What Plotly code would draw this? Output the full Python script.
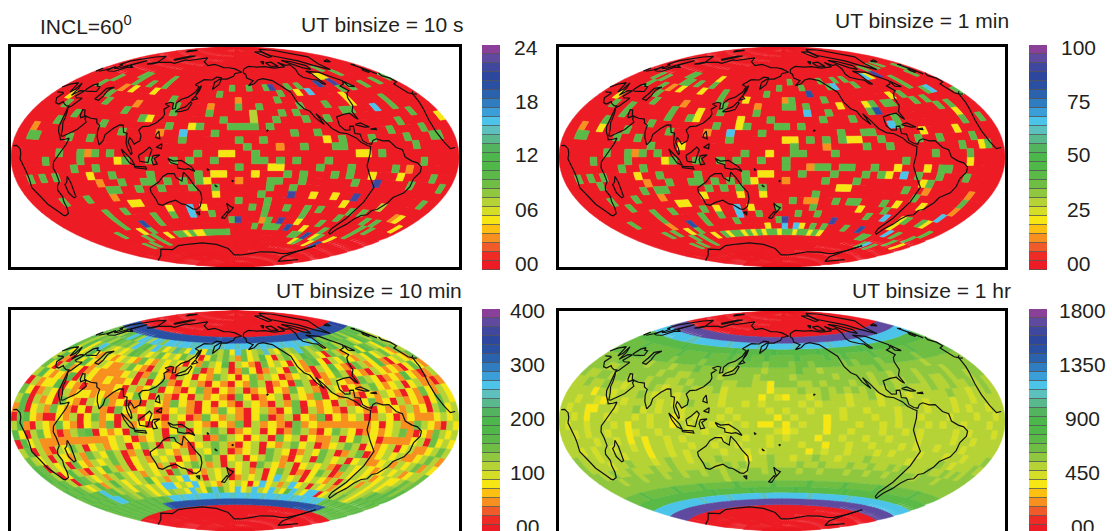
import math
import plotly.graph_objects as go

# ---------- data ----------
LEVEL_CODES = "0123456789abcdefghijklmno"
COLORS = ["#ed1c24","#ee2b24","#f15a29","#f7901e","#fdc010","#f5e614","#d5de26","#b5d334","#8fc73e",
          "#6fbe44","#5bba47","#4fb848","#4cb74a","#52b45f","#58b98c","#5cc0bd","#4cc4ea","#3a9fd9",
          "#2f7cc0","#2b62ae","#2a50a3","#2d479f","#3f479f","#5f4a9f","#8a3f98"]
MAXIMA = [24, 100, 400, 1800]
TITLES = ["UT binsize = 10 s", "UT binsize = 1 min", "UT binsize = 10 min", "UT binsize = 1 hr"]
BAR_LABELS = [["24","18","12","06","00"], ["100","75","50","25","00"],
              ["400","300","200","100","00"], ["1800","1350","900","450","00"]]

# Sparse panels: one string per latitude row (65 down to -65, 5 degrees each); each token is column + level code.
panel_10s = [
 "50a",
 "10a 11a 17a 475 485 52a",
 "6a 11a 14a 17a 29a 32a 35a 36m 39a 41a 45k 48m",
 "5a 103 125 165 27a 37a 405 42g 48a 50a 53a 56a 59a",
 "9a 20a 36a 303 475",
 "35 10a 153 21a 263 30a 33a 39a 43a 475 53a",
 "4a 14a 21a 26a 327 36a 38a 45a 46a 50g 53a",
 "7a 17a 185 28a 327 35a 39a 42a 55a",
 "5a 12a 21a 245 25a 29a 30a 31a 32a 34a 52a 595",
 "23 15a 203 23g 27a 37a 40a 50a 55a",
 "2a 3a 8a 11a 23a 30a 33a 415 43a 47a 52a 56a 57a",
 "31a 353 38a 42a 43a 53a",
 "7a 10a 113 12a 14a 25a 285 295 32a 455 465 48a",
 "5a 10a 155 16a 19a 22a 24a 27a 32a 33a 35a 37a 41a 54a",
 "9a 12a 30a 345 355 40a 44a 50a 523",
 "2a 4a 6a 115 14a 19a 25a 275 285 325 36a 38a 42a 44a 475 515 56a",
 "123 15a 18a 19a 21a 23a 25a 265 303 34a 35a 38a 45a 48m 53a 58a",
 "13a 14a 20a 24a 27a 17a 34a 37a",
 "5a 9a 133 275 33a 37m 405 435 46m 57a",
 "155 165 30a 34a 455 517",
 "10a 13a 205 23g 255 32a 34a 37a 40a 42a 47a 49a 553 565",
 "10a 17a 20a 23g 26a 34a 40a 46a 51a 53a 585",
 "10a 14k 17a 29a 30m 35a 343 37m 405 44a 52a 54a",
 "7a 125 14a 33a 35a 36a 37a 39k 425 46a 52a",
 "11a 13a 165 18a 19a 205 21a 225 235 24a 25a 26a 27a 28a 41a 42a 44k 465 47a 505",
 "8a 10a 13a 435 44a 475 49k",
]
panel_1min = [
 "50a 53a 55a",
 "10a 11a 175 473 485 31a 37a 40a 42a 47g 50m 58a",
 "6a 11a 14a 17a 29a 33a 38a 39g 43a 52a 57a 4a 12a",
 "5a 103 125 165 27a 34k 52a 8a 20a",
 "9a 20a 36a 303 31a 475 49a 54a 55g 245",
 "35 10a 153 21a 263 30a 31a 33a 385 425 43a 45a 46a 50a 52a 59a",
 "4a 14a 21a 26a 33g 36a 42a 43k 53a 55a 185 7a",
 "7a 17a 185 28a 35a 39a 45a 555 14a 245",
 "5a 12a 21a 245 25a 29a 30a 32a 45a 44g 55a 58a",
 "23 15a 203 23g 27a 37a 40a 41a 485 535 55 9a",
 "2a 3a 8a 11a 23a 305 315 33a 35a 37a 385 395 42a 47a 50a 55a",
 "31a 353 40a 43a 53a 565 57a 13a 175",
 "7a 10a 113 12a 14a 25a 285 31a 32a 36a 49a 54a",
 "5a 10a 155 16a 19a 22a 24a 27a 30a 545 45a",
 "9a 12a 30a 333 34a 35a 37a 38a 41a 445 485 50a 51a",
 "2a 4a 6a 115 14a 19a 25a 275 285 32a 36a 40a 42a 435 45g 47a 50a 54a",
 "123 15a 18a 19a 21a 23a 25a 265 303 35a 39a 49a 485 5a",
 "13a 14a 20a 24a 27a 375 385 46a 493 563 22a 11a",
 "5a 9a 133 275 34a 48a 56a 245 195",
 "155 165 31a 333 343 37a 39a 40a 44a 465 505 563 7a",
 "10a 13a 205 23g 255 34a 415 45a 55g 29a 18a",
 "10a 17a 20a 23g 26a 32a 35a 43a 46g 495 50a 53a 545 4a",
 "14k 17a 29a 30m 38m 495 57a 103 22a",
 "7a 125 14a 30g 32g 335 35a 37a 41a 44k 50g 52a 56a 9a 275",
 "11a 13a 165 18a 195 20a 21a 225 23a 245 25a 265 27a 28a 295 30a 31a 325 33a 34a 355 36a 375 46a 47a 54a 575",
 "8a 10a 13a 50g 49a 52a",
]
# Dense panels: 60 level codes per latitude row, left to right across the map.
panel_10min = [
 "kkkllkkkkk kkkkkkkkkk kkkkkkjkkk kkkkkkkkkk kkkkkkkkkk kkjkkkkkll",
 "9a897a9ga7 gf7gf8ggfg gffggfgfgg fgggfgfggf ggfgg9ga8a 9a8a7a9a9a",
 "a79897a989 7g9a7g857e 85g75e8795 g9578f7597 8g978a59a7 89a75a9797",
 "97a58g9757 57a9757957 5975059797 3957a50795 7a97509735 7a5a975a87",
 "a5957a5375 3575395375 75053975a0 7530957505 39a5075953 75a5795397",
 "7a3095a537 5337953075 0375903570 3950375095 3075a53097 35a3057539",
 "9507a35035 3333570395 3075053975 0593750357 5035970530 7535305953",
 "7a5353a075 3353350705 9305730530 5397035097 0537530975 0353a53037",
 "07355a0530 3333507359 0530593053 7035053957 3075053795 3570573303",
 "9503750735 5353305950 7305073530 9503570753 9053730537 5305395375",
 "7a07350953 0759350307 5395305053 0753073905 3507305935 0735305975",
 "3a05739530 5073095357 0357305395 3057305907 3530753053 5373507957",
 "09a5300537 0593503705 3075039537 3059037053 9053570375 0353335757",
 "7a30753953 0573907350 5370753053 9073530935 3333333505 7339753075",
 "a507953037 9a05350975 7059057970 3570503973 0597503535 7930539757",
 "0a57333333 3333575035 7093570397 5057095705 3370597503 3335709575",
 "7907307597 0573570597 0753057973 0570537957 0357970535 7057335797",
 "9757075373 9759703705 7537075970 3570975037 5970379035 7573357973",
 "a907570953 7579705737 5705379705 7057973057 0975705733 5737579375",
 "a9705a7307 5a73705753 7057973707 5709753705 7573097575 3575735779",
 "9a970a9757 3797573757 0970537570 5737059703 0597037575 7357557989",
 "a9a9757a37 a75757a573 75g5707570 375705g757 0575370757 3757578a8a",
 "9a9a9ag9a7 87587575gg 575g575375 7505g5737g 5707573757 87578a9a9a",
 "a9a9a9gga9 8798757587 75g75aga75 g57g75g75a g75gg05787 9757a9a9a9",
 "9a9a9a9a9a 9a9a9a9ggf ggfgggfggf ggfggfggfg gfgfggfg9a 9a9a9a9a9a",
 "9a9a9a9a9a 9a9ajkkkkk kkkkkkkkkk kkkkkkkkkk kkkkkkkkkj ka9a9a9a9a",
]
panel_1hr = [
 "nnnnnnnnnn nnnnnnnnnn nnnnnnnnnn nnnnnnnnnn nnnnnnnnnn nnnnnnnnnn",
 "gggggggggg ffgggggggf gggggfgggg ggfggggggf ggggfggggg gggggggggg",
 "aaaaaaaaaa abaaaaaaaa abaaaaaaba aaaaaabaaa aaaabaaaaa aaaaaaaaaa",
 "9999a99999 99a9999a99 9a99a99a99 99a9999a99 a9999a9999 999a999999",
 "9999999899 9989999899 9989999899 9899899998 9899989999 9989999999",
 "8888988887 8887888988 8878888788 8898878888 8888988888 8878888888",
 "8887788888 8878877888 8788887888 8788888788 8878878887 8888788888",
 "8778878878 8788778788 8877887758 8877878887 8878877887 8778788788",
 "7787787767 7787677877 7867777757 7787787878 7877878777 8778778787",
 "7777577677 7876776777 7767777576 5776787767 7867776777 7787767787",
 "7767765776 7777676787 7767767677 7767677767 7767787767 7767767777",
 "7677557767 7867677677 7776777767 6776777677 6777677767 7767677677",
 "7767577677 7676775676 7767677775 7677757677 7677677677 7677767767",
 "7677677767 5776775767 7676767557 5767757776 7767677767 6776777677",
 "7767677677 5677677767 6776777776 5677757767 7767767677 7767677767",
 "7777767767 5757767677 7767767767 6777577677 6776777677 7767767777",
 "7767677677 6757767767 7677677767 7767757767 7677767677 6777677777",
 "8777677767 7757767677 7767767677 7775767767 7767677767 7767767778",
 "8777767787 7767877677 7877757787 7677877677 7877777677 7787677787",
 "8877877877 7877877778 7787877787 7787787778 7787787877 7877878788",
 "8888788878 8878878878 8788788788 8878878887 8878878888 7888788888",
 "8888888888 8888888888 8788888888 8888888888 8888888888 8888888888",
 "9999a99999 9a9999a999 99a99999a9 9999a99999 a99999a999 9999a99999",
 "aaaaaaaaaa aaaaaaabaa aaaabaaaaa aabaaaaaaa abaaaaaaaa aaaaaaaaaa",
 "gggggggggg gggfgggggf ggggggfggg gggggfgggg gggfgggggg gggggggggg",
 "nnnnnnnnnn nnnnnnnnnn nnnnnnnnnn nnnnnnnnnn nnnnnnnnnn nnnnnnnnnn",
]

# coastlines as lon, lat pairs
COAST = [
 [(-6,35.8),(-10,31),(-13,27.5),(-17,21),(-17,14.7),(-15,11),(-13,8.5),(-8,4.5),(-3,5),(1,6),(4.5,6.2),(8.5,4.5),(9.7,2),(9,-1),(12,-5),(13.5,-9),(13.7,-12),(12,-17),(14.5,-22),(15.2,-27),(18,-32),(18.5,-34.2),(20,-34.8),(25.5,-34),(30,-31),(32.8,-27),(35.5,-24),(35,-20),(37,-17.5),(40.5,-15),(40.5,-10.5),(39,-6.5),(40,-3),(43,0),(47,4),(50,8),(51.2,11.8),(48,11),(44,10.5),(43,12),(39.5,15.5),(37.5,18.5),(37,21),(35.5,24),(33.5,28),(32.5,30),(32,31),(29,31),(25,31.8),(22,32.8),(20,31),(15.5,31.5),(10.5,34),(11,37),(9.5,37.3),(3,36.8),(-2,35.2),(-6,35.8)],
 [(49.3,-12),(50.3,-16),(47.5,-25),(45,-25.5),(43.5,-22),(44.3,-17),(47,-15.5),(49.3,-12)],
 [(32.5,30),(35,28),(38,24),(39,21),(42,17),(43.3,13),(45,12.8),(52,16),(55,17.5),(59.5,22.5),(56.5,24.5),(56,26.5),(52,25),(50,26.5),(48,30),(50.5,30),(54,26.7),(57,26),(61.5,25.2),(67,25),(69,22.5),(72.5,21),(73,17),(74.5,13),(77.5,8),(80,11),(80.3,15),(85,19.5),(89,22),(92,22),(94.5,17),(97.5,16.5),(98.5,10),(100.3,6),(103.5,1.5),(104,2.5),(103,6),(100,10.5),(100.5,13.5),(102.5,12),(105,9),(109,11.5),(109,15),(106,19),(108,21.5),(113,22),(118,24.5),(121.5,28.5),(122,31),(119.5,34.5),(122.5,37),(118,38.5),(122,40),(125,39.5),(126.5,35),(129,35.5),(127.5,39.5),(130,42.5),(135.5,44.5),(140,48.5),(141,53),(135.5,54.5),(142,59),(152,59),(156,61.5),(163,61),(156,57),(156.5,51.2),(162,55.5),(163,60),(170,60),(178,62.5),(180,65),(-170,66),(-178,68.5),(180,69),(170,70),(160,70),(150,71.5),(140,72.5),(130,71),(113,74),(105,77.5),(90,75),(80,73),(72,73),(68,69),(60,69),(50,68),(43,67),(40,65),(35,64),(41,67),(33,69.5),(25,71),(15,68.5),(5,62),(6,58.5),(11,59),(13,56),(17,57),(18.5,60),(22,65.5),(25,65),(21,61),(23,60),(30,60),(23,59),(21,55),(14,54),(10,54),(9,57),(8,54),(4,52),(-1,50),(-4.5,48.5),(-1,46),(-2,43.5),(-9,43),(-9,37),(-6,36),(-2,37),(0,39.5),(3,42),(6,43),(9,44),(12,42),(16,38.5),(17,40.5),(13,44.5),(15,43.5),(19,41.5),(22,37),(24,40.5),(27,41),(29,41),(27,37),(30,36.3),(36,36.7),(35,33),(34.3,31.3),(32.5,30)],
 [(28,41.5),(28,45),(31,46.5),(34,45),(38,45),(41.5,42),(36,41.5),(31,41),(28,41.5)],
 [(47,45),(53,46.5),(51,44),(54,40),(54,37),(49,37.5),(49,41),(47,45)],
 [(-5,50),(1,51.5),(0,54),(-2,57.5),(-5,58.5),(-5,54.5),(-5,52),(-5,50)],
 [(-10,52),(-6,52.5),(-6,55),(-10,54),(-10,52)],
 [(-24,65),(-14,65),(-18,63.5),(-24,65)],
 [(52,71),(57,71),(68,77),(60,76),(53,72),(52,71)],
 [(12,78),(22,80),(20,77),(12,78)],
 [(130,33),(135,33.5),(140,35),(141.5,40),(140,41),(137,37),(132,35),(130,33)],
 [(140,42),(145,43.5),(142,45.5),(140,42)],
 [(142,46),(143.5,50),(143,54),(142,52),(142,46)],
 [(120.5,16),(122,18.5),(124,13),(120.5,14),(120.5,16)],
 [(122,7),(126,9.5),(126,6),(122,7)],
 [(109,1),(113,3.5),(117,7),(119,5),(117.5,1),(116,-4),(110,-3),(109,1)],
 [(95.5,5.5),(100,2),(104,-2),(106,-6),(102,-4),(98,1),(95.5,5.5)],
 [(105.5,-6.5),(114,-7),(114.5,-8.5),(106,-7.5),(105.5,-6.5)],
 [(120,1),(125,1.5),(121,-1),(123,-5),(120,-5.5),(119,-2),(120,1)],
 [(131,-1),(135,-3),(141,-2.5),(145,-5),(148,-7),(150.5,-10.5),(146,-8.5),(143,-9),(138,-8),(138,-5.5),(133,-4),(131,-1)],
 [(114,-22),(122,-18),(126,-14),(130,-12),(135,-12),(136,-15),(140,-17.5),(142,-11),(145.5,-15),(149,-21),(153,-26),(153,-31),(150,-37),(146,-39),(143,-38.5),(138,-35),(135,-34.5),(131,-31.5),(124,-33),(118,-35),(115,-34),(115,-30),(113.5,-25),(114,-22)],
 [(145,-41),(148,-41),(147,-43.5),(145,-41)],
 [(173,-34.5),(176,-37),(178.5,-38),(175,-41.5),(174,-39),(173,-34.5)],
 [(173,-41),(174,-42),(170,-46.5),(167,-46),(173,-41)],
 [(177.5,-17.5),(178.5,-17.5),(178.5,-18.3),(177.5,-17.5)],
 [(164.5,-20.5),(166.5,-22),(165.5,-22),(164.5,-20.5)],
 [(159.5,-8.5),(161,-9.5),(160,-9.8),(159.5,-8.5)],
 [(-155.8,20),(-155,19.5),(-155.7,19),(-155.8,20)],
 [(-168,65.5),(-166,68.5),(-156,71),(-141,70),(-128,70),(-115,68),(-108,68),(-96,68),(-94,72),(-90,69),(-82,69),(-87,65),(-94,61),(-94,58.5),(-87,56),(-82,55),(-82,52),(-79,51.5),(-79,55),(-77,60),(-78,62.5),(-70,61),(-65,60),(-61,56),(-56,52),(-60,50),(-67,49),(-65,45),(-70,43.5),(-74,40.5),(-76,35),(-81,31),(-80,25.5),(-82,27),(-84,30),(-90,29.5),(-97,28),(-98,22),(-95,18.5),(-91,18.5),(-90,21),(-87,21),(-88,16),(-84,15.5),(-83.5,11),(-80,9),(-77,8.5),(-75,11),(-72,12),(-67,10.5),(-62,10.5),(-57,6),(-52,4.5),(-50,0),(-44,-2.5),(-39,-3.5),(-35,-6),(-35,-9),(-39,-13),(-39,-18),(-41,-22),(-48,-25.5),(-49,-29),(-53,-34),(-57,-35),(-57,-38),(-62,-39),(-65,-42),(-66,-46),(-69,-50),(-68,-54),(-72,-53),(-75,-50),(-73,-42),(-73,-37),(-71,-30),(-70,-20),(-76,-14),(-81,-6),(-80,-2),(-79,2),(-78,7),(-80,7.5),(-85,10),(-88,13),(-94,16),(-100,17),(-105,20),(-109,26),(-113,31),(-110,23),(-115,28),(-117,33),(-121,35),(-124,40),(-124,48),(-130,54),(-135,58),(-145,60),(-152,59),(-158,56),(-165,54.5),(-158,58.5),(-165,61),(-165,64),(-168,65.5)],
 [(-73,78),(-60,82),(-32,83.5),(-20,80),(-22,70),(-40,65),(-44,60),(-52,65),(-55,70),(-68,76),(-73,78)],
 [(-80,73),(-70,71),(-62,66),(-67,63),(-73,65),(-78,70),(-80,73)],
 [(-117,70),(-105,69),(-105,73),(-117,73),(-117,70)],
 [(-90,77),(-78,77),(-62,82),(-85,83),(-90,77)],
 [(-125,72),(-118,74),(-123,74.5),(-125,72)],
 [(-85,22),(-80,23),(-74,20),(-78,20),(-85,22)],
 [(-74,18.5),(-69,19),(-69,18),(-74,18.5)],
 [(-59,48),(-53,47),(-56,51.5),(-59,48)],
 [(-58,-63),(-62,-68),(-70,-72),(-80,-73),(-100,-73),(-125,-74),(-150,-77),(-165,-78),(178,-78),(167,-72),(150,-68),(130,-66),(110,-66),(90,-66),(70,-68),(55,-66),(30,-69),(0,-70),(-20,-73),(-35,-78),(-60,-75),(-63,-68),(-58,-63)],
]

# ---------- layout geometry (pixels) ----------
W, H = 1112, 531
PANELS = [
 dict(rows=panel_10s,  sparse=True,  L=11,  R=459,  T=47,  B=267, cx=235, cy=157, a=224, b=110, tx=465,  ty=24,  bar=(482,500,45,270),  lab=526,  laby=47),
 dict(rows=panel_1min, sparse=True,  L=559, R=1005, T=47,  B=267, cx=782, cy=157, a=223, b=110, tx=1011, ty=21,  bar=(1029,1047,45,270),lab=1078, laby=47),
 dict(rows=panel_10min,sparse=False, L=11,  R=459,  T=310, B=531, cx=235, cy=421, a=224, b=110, tx=464,  ty=291, bar=(482,500,309,531), lab=527,  laby=310),
 dict(rows=panel_1hr,  sparse=False, L=559, R=1005, T=311, B=531, cx=782, cy=421, a=223, b=110, tx=1013, ty=291, bar=(1029,1047,309,531),lab=1082, laby=310),
]
LABEL_STEP = 54
LON_CENTER = 180
FONT = "Liberation Sans, Arial, sans-serif"


def hammer_rel(lam, lat):
    l, p = math.radians(lam) / 2, math.radians(lat)
    d = math.sqrt(1 + math.cos(p) * math.cos(l))
    return math.cos(p) * math.sin(l) / d, math.sin(p) / d  # normalised to +-1


def cell_polygon(col, lat_top):
    lam0 = -180 + 6 * col
    pts = [hammer_rel(lam0 + 2 * k, lat_top) for k in range(4)]
    pts += [hammer_rel(lam0 + 6, lat_top - 2.5)]
    pts += [hammer_rel(lam0 + 2 * k, lat_top - 5) for k in range(3, -1, -1)]
    pts += [hammer_rel(lam0, lat_top - 2.5), pts[0]]
    return pts


def level_rows(p):
    """Turn a panel's strings into a 26 x 60 table of level indices."""
    table = []
    for row in p["rows"]:
        if p["sparse"]:
            cells = [0] * 60
            for tok in row.split():
                cells[int(tok[:-1])] = LEVEL_CODES.index(tok[-1])
        else:
            text = row.replace(" ", "").ljust(60, "0")[:60]
            cells = [LEVEL_CODES.index(ch) for ch in text]
        table.append(cells)
    return table


fig = go.Figure()
layout = dict(width=W, height=H, autosize=False, margin=dict(l=0, r=0, t=0, b=0),
              paper_bgcolor="white", plot_bgcolor="white", showlegend=False,
              font=dict(family=FONT, color="#231f20"))
annotations, shapes = [], []

for i, p in enumerate(PANELS):
    xa, ya = ("x%d" % (i + 1) if i else "x"), ("y%d" % (i + 1) if i else "y")
    xk, yk = ("xaxis%d" % (i + 1) if i else "xaxis"), ("yaxis%d" % (i + 1) if i else "yaxis")
    layout[xk] = dict(domain=[p["L"] / W, p["R"] / W], range=[(p["L"] - p["cx"]) / p["a"], (p["R"] - p["cx"]) / p["a"]],
                      showgrid=False, zeroline=False, showticklabels=False, ticks="", showline=True, mirror=True,
                      linecolor="black", linewidth=3, anchor=ya)
    layout[yk] = dict(domain=[1 - p["B"] / H, 1 - p["T"] / H], range=[(p["cy"] - p["B"]) / p["b"], (p["cy"] - p["T"]) / p["b"]],
                      showgrid=False, zeroline=False, showticklabels=False, ticks="", showline=True, mirror=True,
                      linecolor="black", linewidth=3, anchor=xa)

    grouped = {lv: ([], []) for lv in range(25)}

    def add_cell(lv, col, lat_top):
        for x, y in cell_polygon(col, lat_top):
            grouped[lv][0].append(x); grouped[lv][1].append(y)
        grouped[lv][0].append(None); grouped[lv][1].append(None)

    # polar caps hold the lowest level in every panel
    for lat_top in (90, 85, 80, 75, 70):
        for col in range(60):
            add_cell(0, col, lat_top)
            add_cell(0, col, -lat_top + 5)
    for r, cells in enumerate(level_rows(p)):
        for col, lv in enumerate(cells):
            add_cell(lv, col, 65 - 5 * r)
    for lv, (xs, ys) in grouped.items():
        if xs:
            fig.add_trace(go.Scatter(x=xs, y=ys, xaxis=xa, yaxis=ya, mode="lines", fill="toself",
                                     fillcolor=COLORS[lv], line=dict(color=COLORS[lv], width=0.5), hoverinfo="skip"))

    # coastlines
    cx_, cy_ = [], []
    for line in COAST:
        prev = None
        for lon, lat in line:
            lam = (lon - LON_CENTER + 180) % 360 - 180
            if prev is not None and abs(lam - prev) > 180:
                cx_.append(None); cy_.append(None)
            x, y = hammer_rel(lam, lat)
            cx_.append(x); cy_.append(y)
            prev = lam
        cx_.append(None); cy_.append(None)
    fig.add_trace(go.Scatter(x=cx_, y=cy_, xaxis=xa, yaxis=ya, mode="lines",
                             line=dict(color="#111111", width=1.2), hoverinfo="skip"))

    # colour bar
    j = i + 5
    bx0, bx1, by0, by1 = p["bar"]
    bins = list(range(25))
    top_edge = 24.5
    bottom_val = top_edge - (by1 - by0) / 9.0
    layout["xaxis%d" % j] = dict(domain=[bx0 / W, bx1 / W], range=[-0.5, 0.5], showgrid=False, zeroline=False,
                                 showticklabels=False, ticks="", showline=False, anchor="y%d" % j)
    layout["yaxis%d" % j] = dict(domain=[1 - by1 / H, 1 - by0 / H], range=[bottom_val, top_edge], showgrid=False,
                                 zeroline=False, showticklabels=False, ticks="", showline=False, anchor="x%d" % j)
    shapes.append(dict(type="rect", xref="paper", yref="paper", x0=bx0 / W, x1=bx1 / W, y0=1 - by1 / H, y1=1 - by0 / H,
                       fillcolor="#555555", line=dict(width=0), layer="below"))
    scale = []
    for k, c in enumerate(COLORS):
        scale += [[k / 25, c], [(k + 1) / 25, c]]
    fig.add_trace(go.Heatmap(z=[[b * MAXIMA[i] / 24] for b in bins], x=[0], y=bins, xaxis="x%d" % j, yaxis="y%d" % j,
                             colorscale=scale, zmin=-MAXIMA[i] / 48, zmax=MAXIMA[i] + MAXIMA[i] / 48,
                             showscale=False, ygap=0.8, hoverinfo="skip"))
    for n, text in enumerate(BAR_LABELS[i]):
        annotations.append(dict(text=text, xref="paper", yref="paper", x=p["lab"] / W,
                                y=1 - (p["laby"] + n * LABEL_STEP) / H, xanchor="center", yanchor="middle",
                                showarrow=False, font=dict(size=21, family=FONT, color="#231f20")))
    annotations.append(dict(text=TITLES[i], xref="paper", yref="paper", x=p["tx"] / W, y=1 - p["ty"] / H,
                            xanchor="right", yanchor="middle", showarrow=False,
                            font=dict(size=21, family=FONT, color="#231f20")))

annotations.append(dict(text="INCL=60<sup>0</sup>", xref="paper", yref="paper", x=38 / W, y=1 - 25 / H,
                        xanchor="left", yanchor="middle", showarrow=False,
                        font=dict(size=21, family=FONT, color="#231f20")))
layout["annotations"] = annotations
layout["shapes"] = shapes
fig.update_layout(**layout)
fig.write_html("out.html", config={"displayModeBar": False},
               post_script="document.body.style.margin='0';document.body.style.overflow='hidden';")
